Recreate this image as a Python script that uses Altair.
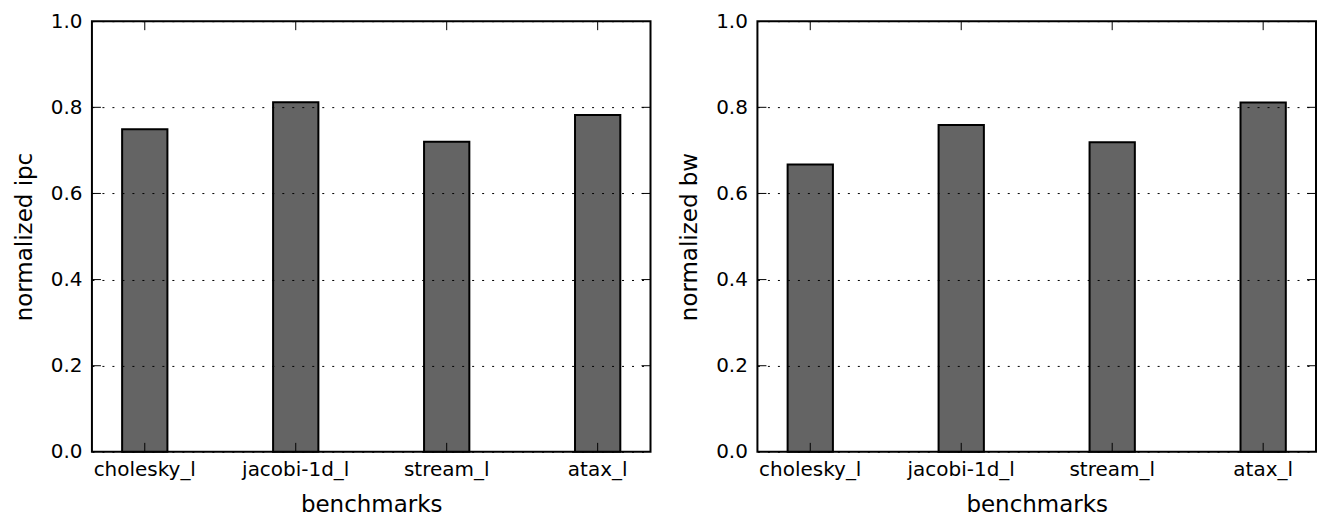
import altair as alt
import pandas as pd

benchmarks = ["cholesky_l", "jacobi-1d_l", "stream_l", "atax_l"]
ipc = [0.749, 0.812, 0.720, 0.782]
bw = [0.667, 0.759, 0.719, 0.811]
yticks = [0.0, 0.2, 0.4, 0.6, 0.8, 1.0]
inner_yticks = [0.2, 0.4, 0.6, 0.8]

W, H = 559, 431
TICK = 9
FONT = "DejaVu Sans"


def panel(values, ytitle):
    df = pd.DataFrame({"benchmark": benchmarks, "value": values})
    tdf = pd.DataFrame({"value": inner_yticks})
    xscale = alt.Scale(domain=benchmarks, paddingInner=0.7, paddingOuter=0.2)
    yscale = alt.Scale(domain=[0, 1], nice=False, zero=True)
    xaxis = alt.Axis(title="benchmarks", labelAngle=0, grid=False, ticks=False,
                     domain=False, labelPadding=8, titlePadding=14,
                     labelFont=FONT, labelFontSize=20, labelColor="black",
                     titleFont=FONT, titleFontSize=23, titleFontWeight="normal",
                     titleColor="black")
    yaxis = alt.Axis(title=ytitle, values=yticks, format=".1f", grid=True,
                     gridDash=[2, 8], gridColor="black", gridWidth=1, gridOpacity=1,
                     ticks=False, domain=False, labelPadding=10, titlePadding=14,
                     labelFont=FONT, labelFontSize=20, labelColor="black",
                     titleFont=FONT, titleFontSize=23, titleFontWeight="normal",
                     titleColor="black", zindex=1)
    bars = alt.Chart(df).mark_bar(color="#646464", stroke="black", strokeWidth=2).encode(
        x=alt.X("benchmark:N", scale=xscale, sort=benchmarks, axis=xaxis),
        y=alt.Y("value:Q", scale=yscale, axis=yaxis),
    )
    xt_bot = alt.Chart(df).mark_rule(color="black", strokeWidth=1).encode(
        x=alt.X("benchmark:N", sort=benchmarks),
        y=alt.value(H), y2=alt.value(H - TICK))
    xt_top = alt.Chart(df).mark_rule(color="black", strokeWidth=1).encode(
        x=alt.X("benchmark:N", sort=benchmarks),
        y=alt.value(0), y2=alt.value(TICK))
    yt_left = alt.Chart(tdf).mark_rule(color="black", strokeWidth=1).encode(
        y=alt.Y("value:Q"), x=alt.value(0), x2=alt.value(TICK))
    yt_right = alt.Chart(tdf).mark_rule(color="black", strokeWidth=1).encode(
        y=alt.Y("value:Q"), x=alt.value(W - TICK), x2=alt.value(W))
    return alt.layer(bars, xt_bot, xt_top, yt_left, yt_right).properties(width=W, height=H)


chart = alt.hconcat(panel(ipc, "normalized ipc"), panel(bw, "normalized bw"), spacing=25).properties(
    padding={"left": 12, "top": 10, "right": 0, "bottom": 0},
    background="white",
).configure_view(stroke="black", strokeWidth=2)

chart.save("out.html", embed_options={"renderer": "svg", "actions": False})
